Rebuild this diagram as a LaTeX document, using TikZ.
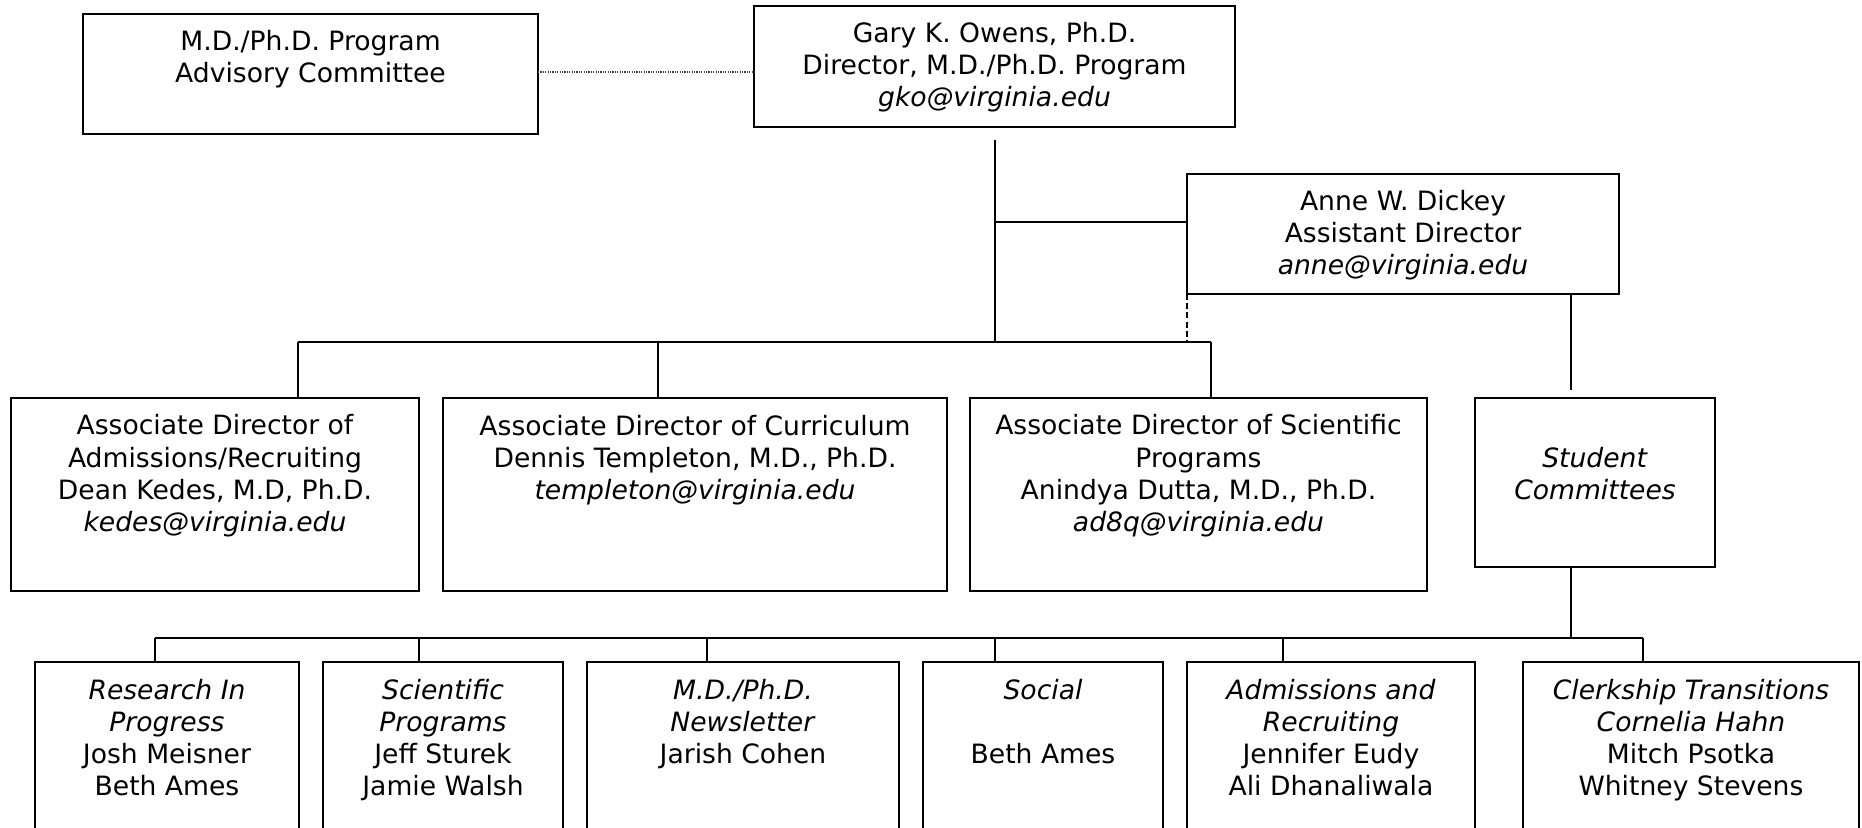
\documentclass[tikz,border=0pt]{standalone}
\usepackage{fontspec}
\setmainfont{DejaVu Sans}
\begin{document}
\begin{tikzpicture}[x=0.5pt,y=-0.5pt,
  boxst/.style={draw=black, line width=0.9pt, rectangle, inner sep=0pt, outer sep=0pt, anchor=north west},
  txt/.style={anchor=north, inner sep=0pt, outer sep=0pt, align=center, font=\fontsize{13.3}{16}\selectfont},
  conn/.style={draw=black, line width=0.6pt},
  dotline/.style={draw=black!75, line width=0.6pt, dash pattern=on 0.6pt off 0.6pt},
  dashline/.style={draw=black, line width=0.6pt, dash pattern=on 3pt off 1.6pt}]
\clip (0,0) rectangle (1862,828);
\fill[white] (0,0) rectangle (1862,828);

% top boxes
\node[boxst, minimum width=227.5pt, minimum height=60pt] (adv) at (83,14) {};
\node[txt] (advt) at ([yshift=-7.3pt]adv.north) {\strut M.D./Ph.D. Program\\Advisory Committee};

\node[boxst, minimum width=240.5pt, minimum height=60.5pt] (own) at (754,6) {};
\node[txt] (ownt) at ([yshift=-7.3pt]own.north) {\strut Gary K. Owens, Ph.D.\\Director, M.D./Ph.D. Program\\\textit{gko@virginia.edu}};

\node[boxst, minimum width=216pt, minimum height=60pt] (dic) at (1187,174) {};
\node[txt] (dict) at ([yshift=-7.3pt]dic.north) {\strut Anne W. Dickey\\Assistant Director\\\textit{anne@virginia.edu}};

% associate directors
\node[boxst, minimum width=204pt, minimum height=96.5pt] (ad1) at (11,398) {};
\node[txt] (ad1t) at ([yshift=-7.3pt]ad1.north) {\strut Associate Director of\\Admissions/Recruiting\\Dean Kedes, M.D, Ph.D.\\\textit{kedes@virginia.edu}};

\node[boxst, minimum width=252pt, minimum height=96.5pt] (ad2) at (443,398) {};
\node[txt] (ad2t) at ([yshift=-7.3pt]ad2.north) {\strut Associate Director of Curriculum\\Dennis Templeton, M.D., Ph.D.\\\textit{templeton@virginia.edu}};

\node[boxst, minimum width=228.5pt, minimum height=96.5pt] (ad3) at (970,398) {};
\node[txt] (ad3t) at ([yshift=-7.3pt]ad3.north) {\strut Associate Director of Scientific\\Programs\\Anindya Dutta, M.D., Ph.D.\\\textit{ad8q@virginia.edu}};

\node[boxst, minimum width=120pt, minimum height=84.5pt] (sc) at (1475,398) {};
\node[txt] (sct) at ([yshift=-7.3pt]sc.north) {\strut\\\textit{Student}\\\textit{Committees}};

% committees
\node[boxst, minimum width=132pt, minimum height=89pt] (b1) at (35,662) {};
\node[txt] (b1t) at ([yshift=-7.3pt]b1.north) {\strut\textit{Research In}\\\textit{Progress}\\Josh Meisner\\Beth Ames};

\node[boxst, minimum width=120pt, minimum height=89pt] (b2) at (323,662) {};
\node[txt] (b2t) at ([yshift=-7.3pt]b2.north) {\strut\textit{Scientific}\\\textit{Programs}\\Jeff Sturek\\Jamie Walsh};

\node[boxst, minimum width=156pt, minimum height=89pt] (b3) at (587,662) {};
\node[txt] (b3t) at ([yshift=-7.3pt]b3.north) {\strut\textit{M.D./Ph.D.}\\\textit{Newsletter}\\Jarish Cohen};

\node[boxst, minimum width=120pt, minimum height=89pt] (b4) at (923,662) {};
\node[txt] (b4t) at ([yshift=-7.3pt]b4.north) {\strut\textit{Social}\\\strut\\Beth Ames};

\node[boxst, minimum width=144pt, minimum height=89pt] (b5) at (1187,662) {};
\node[txt] (b5t) at ([yshift=-7.3pt]b5.north) {\strut\textit{Admissions and}\\\textit{Recruiting}\\Jennifer Eudy\\Ali Dhanaliwala};

\node[boxst, minimum width=168pt, minimum height=89pt] (b6) at (1523,662) {};
\node[txt] (b6t) at ([yshift=-7.3pt]b6.north) {\strut\textit{Clerkship Transitions}\\\textit{Cornelia Hahn}\\Mitch Psotka\\Whitney Stevens};

% coordinates
\coordinate (advj) at (538,72);
\coordinate (ownj) at (754,72);
\coordinate (owns) at (995,140);
\coordinate (dicj) at (995,222);
\coordinate (busL) at (298,342);
\coordinate (busM) at (658,342);
\coordinate (busC) at (995,342);
\coordinate (busD) at (1187,342);
\coordinate (busR) at (1211,342);
\coordinate (dicd) at (1571,294);
\coordinate (dice) at (1571,390);
\coordinate (scb) at (1571,638);
\coordinate (c1) at (155,638);
\coordinate (c2) at (419,638);
\coordinate (c3) at (707,638);
\coordinate (c4) at (995,638);
\coordinate (c5) at (1283,638);
\coordinate (c6) at (1643,638);

% connectors
\draw[dotline] (advj) -- (ownj);
\draw[conn] (owns) -- (busC);
\draw[conn] (dicj) -- (dicj -| dic.west);
\draw[dashline] (dic.south west) -- (busD);
\draw[conn] (busL) -- (busR);
\draw[conn] (busL) -- (busL |- ad1.north);
\draw[conn] (busM) -- (busM |- ad2.north);
\draw[conn] (busR) -- (busR |- ad3.north);
\draw[conn] (dicd) -- (dice);
\draw[conn] (sc.south -| scb) -- (scb);
\draw[conn] (c1) -- (c6);
\draw[conn] (c1) -- (c1 |- b1.north);
\draw[conn] (c2) -- (c2 |- b2.north);
\draw[conn] (c3) -- (c3 |- b3.north);
\draw[conn] (c4) -- (c4 |- b4.north);
\draw[conn] (c5) -- (c5 |- b5.north);
\draw[conn] (c6) -- (c6 |- b6.north);
\end{tikzpicture}
\end{document}
